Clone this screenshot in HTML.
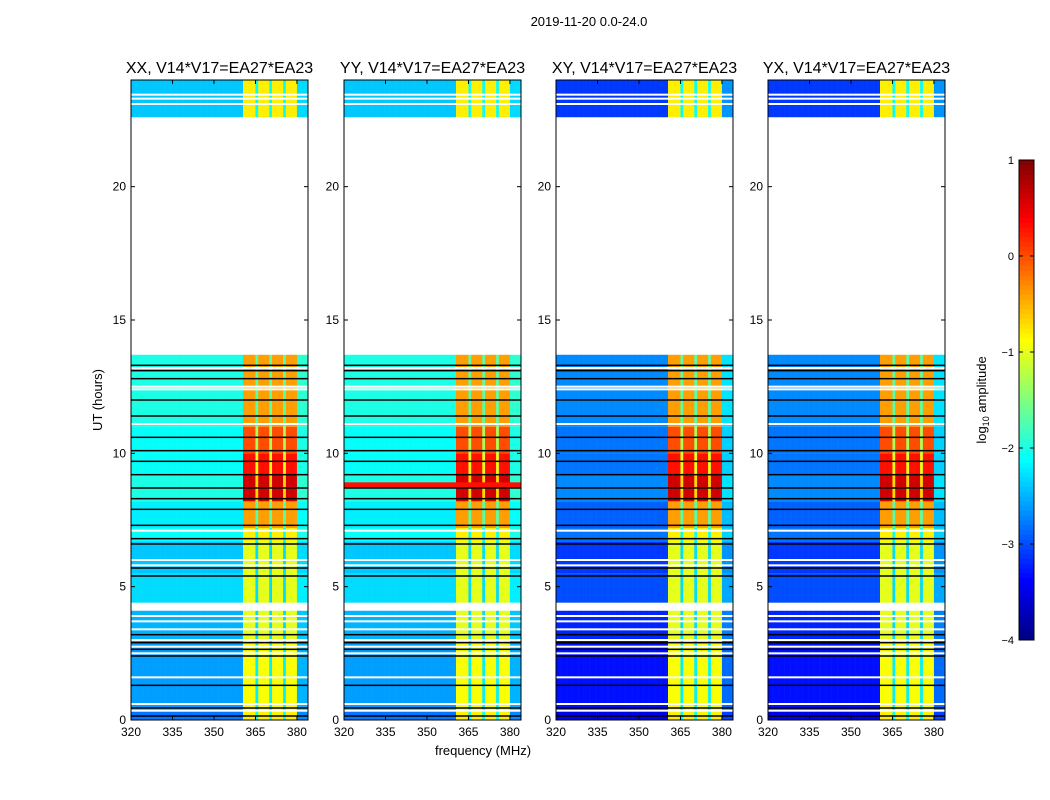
<!DOCTYPE html>
<html><head><meta charset="utf-8">
<style>
body{margin:0;background:#fff;}
svg{display:block;font-family:"Liberation Sans","DejaVu Sans",sans-serif;}
</style></head>
<body>
<svg id="fig" width="1050" height="800" viewBox="0 0 1050 800" xmlns="http://www.w3.org/2000/svg">
<rect x="0" y="0" width="1050" height="800" fill="#fff"/>
<text x="589" y="26" font-size="13" text-anchor="middle">2019-11-20 0.0-24.0</text>
<text transform="translate(102,400) rotate(-90)" font-size="13" text-anchor="middle">UT (hours)</text>
<text x="483" y="755" font-size="13" text-anchor="middle">frequency (MHz)</text>
<text transform="translate(986,400) rotate(-90)" font-size="13" text-anchor="middle">log<tspan font-size="9" dy="3">10</tspan><tspan dy="-3"> amplitude</tspan></text>
<g id="panels"></g>
<g id="cbar"></g>
</svg>
<script>
// ---- data ----
const panelTitles = ["XX, V14*V17=EA27*EA23","YY, V14*V17=EA27*EA23","XY, V14*V17=EA27*EA23","YX, V14*V17=EA27*EA23"];
const panelLefts = [131,344,556,768];
const bgOffsets = [0, 0, -0.7, -0.7];
const segStart = [0,   0.3, 3.0, 4.4, 5.5, 6.7, 7.2, 8.2, 9.2, 10.0, 11.0, 22.6];
const segEnd   = [0.3, 3.0, 4.1, 5.5, 6.7, 7.2, 8.2, 9.2, 10.0, 11.0, 13.7, 24.0];
const segBg    = [-2.8,-2.6,-2.5,-2.3,-2.4,-2.1,-2.2,-2.0,-2.1,-2.1,-2.0,-2.4];
const segBand  = [-0.8,-0.9,-1.0,-1.0,-1.0,-0.8,-0.4,0.6,0.3,0.0,-0.4,-0.8];
const whiteLines = [0.35,0.6,1.6,2.5,2.75,3.0,3.4,3.7,3.9,5.8,6.0,7.1,11.1,12.4,12.5,13.2,23.1,23.3,23.45];
const blackLines = [0.15,0.45,1.3,2.4,2.65,2.9,3.2,5.4,5.7,6.6,6.8,7.3,7.9,8.3,8.7,9.2,9.7,10.1,10.6,11.4,12.0,12.8,13.1,13.3];
const flagBlocks = [[4.1,4.35],[13.7,22.6]];
const bandStart = 360.4, bandEnd = 380.0;
const gapCenters = [365.3,370.4,375.5];
const yTicks = [0,5,10,15,20];
const xTicks = [320,335,350,365,380];
const cbTicks = [1,0,-1,-2,-3,-4];
const yyRedLine = 8.8;

const PW=177, PT=80, PB=720, FMIN=320, FMAX=384, TMAX=24;
const yS = h => PB - h/TMAX*(PB-PT);
const xS = (f,l) => l + (f-FMIN)/(FMAX-FMIN)*PW;
function jet(v){
  let t=Math.max(0,Math.min(1,(v+4)/5));
  const c=x=>Math.round(255*Math.max(0,Math.min(1,x)));
  return `rgb(${c(1.5-Math.abs(4*t-3))},${c(1.5-Math.abs(4*t-2))},${c(1.5-Math.abs(4*t-1))})`;
}
const NS="http://www.w3.org/2000/svg";
function mk(tag,attrs,parent){const e=document.createElementNS(NS,tag);for(const k in attrs)e.setAttribute(k,attrs[k]);parent.appendChild(e);return e;}
const panelsG=document.getElementById('panels');
const CH=0.5;
panelLefts.forEach((L,p)=>{
  const g=mk('g',{},panelsG);
  
  
  for(let s=0;s<segStart.length;s++){
    for(let f=FMIN;f<FMAX;f+=CH){
      const fc=f+CH/2;
      let v;
      if(fc>=bandStart&&fc<=bandEnd){
        v=segBand[s];
        if(gapCenters.some(gc=>Math.abs(fc-gc)<0.5)) v=segBand[s]-1.3;
      } else if(fc>bandEnd){ v=segBg[s]+bgOffsets[p]*0.5+0.1; }
      else v=segBg[s]+bgOffsets[p];
      const x0=xS(f,L), x1=xS(f+CH,L);
      const r=mk('rect',{x:x0.toFixed(2),y:yS(segEnd[s]).toFixed(2),width:(x1-x0+0.3).toFixed(2),height:(yS(segStart[s])-yS(segEnd[s])).toFixed(2),fill:jet(v)},g);
      
      
    }
  }
  if(p===1){
    const r=mk('rect',{x:L,y:yS(yyRedLine)-3,width:PW,height:5,fill:jet(0.3)},g);
    
    
  }
  flagBlocks.forEach(b=>{
    const r=mk('rect',{x:L,y:yS(b[1]),width:PW,height:yS(b[0])-yS(b[1]),fill:'#fff'},g);
    
    
  });
  whiteLines.forEach(h=>{
    const r=mk('rect',{x:L,y:yS(h)-1,width:PW,height:2,fill:'#fff'},g);
    
    
  });
  blackLines.forEach(h=>{
    const r=mk('rect',{x:L,y:yS(h)-0.75,width:PW,height:1.5,fill:'#000'},g);
    
    
  });
  const fr=mk('rect',{x:L,y:PT,width:PW,height:PB-PT,fill:'none',stroke:'#000','stroke-width':1},g);
  
  
  const t=mk('text',{x:L+PW/2,y:73,'font-size':16,'text-anchor':'middle'},g);
  t.textContent=panelTitles[p];
  
  
  yTicks.forEach(h=>{
    const y=yS(h);
    mk('line',{x1:L,x2:L+4,y1:y,y2:y,stroke:'#000'},g);
    mk('line',{x1:L+PW-4,x2:L+PW,y1:y,y2:y,stroke:'#000'},g);
    const tt=mk('text',{x:L-5,y:y+4,'font-size':12,'text-anchor':'end'},g);
    tt.textContent=h;
    
    
  });
  xTicks.forEach(f=>{
    const x=xS(f,L);
    mk('line',{x1:x,x2:x,y1:PB,y2:PB-4,stroke:'#000'},g);
    mk('line',{x1:x,x2:x,y1:PT,y2:PT+4,stroke:'#000'},g);
    const tt=mk('text',{x:x,y:PB+16,'font-size':12,'text-anchor':'middle'},g);
    tt.textContent=f;
    
    
  });
});
const cb=document.getElementById('cbar');


const CBX=1019,CBW=15,CBT=160,CBB=640;
const cbY=v=>CBB-(v+4)/5*(CBB-CBT);
for(let i=0;i<100;i++){
  const v0=-4+i*0.05;
  mk('rect',{x:CBX,y:cbY(v0+0.05),width:CBW,height:(CBB-CBT)/100+0.5,fill:jet(v0+0.025)},cb);
}
mk('rect',{x:CBX,y:CBT,width:CBW,height:CBB-CBT,fill:'none',stroke:'#000'},cb);
cbTicks.forEach(v=>{
  const y=cbY(v);
  mk('line',{x1:CBX,x2:CBX+4,y1:y,y2:y,stroke:'#000'},cb);
  mk('line',{x1:CBX+CBW-4,x2:CBX+CBW,y1:y,y2:y,stroke:'#000'},cb);
  const tt=mk('text',{x:CBX-5,y:y+4,'font-size':11,'text-anchor':'end'},cb);
  tt.textContent=v<0?'\u2212'+(-v):v;
  
  
});
</script>
</body></html>
